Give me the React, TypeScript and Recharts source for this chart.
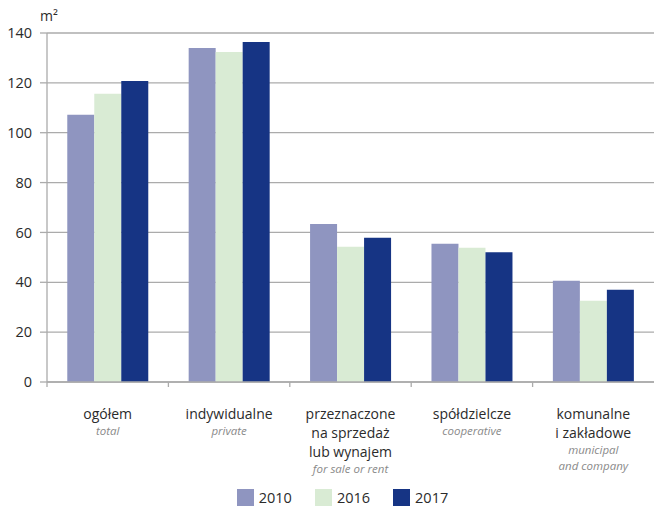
import { BarChart, Bar, XAxis, YAxis, CartesianGrid, Legend } from 'recharts';

const categoriesPl = [
  ['ogółem'],
  ['indywidualne'],
  ['przeznaczone', 'na sprzedaż', 'lub wynajem'],
  ['spółdzielcze'],
  ['komunalne', 'i zakładowe'],
];
const categoriesEn = [['total'], ['private'], ['for sale or rent'], ['cooperative'], ['municipal', 'and company']];

const values2010 = [107.2, 134.0, 63.4, 55.5, 40.6];
const values2016 = [115.6, 132.4, 54.3, 53.9, 32.6];
const values2017 = [120.7, 136.4, 57.9, 52.0, 37.0];

const yTicks = [0, 20, 40, 60, 80, 100, 120, 140];

const series = [
  { key: 'y2010', name: '2010', color: '#8f95c0' },
  { key: 'y2016', name: '2016', color: '#d9ebd4' },
  { key: 'y2017', name: '2017', color: '#163484' },
];

const data = categoriesPl.map((pl, i) => ({
  id: String(i),
  y2010: values2010[i],
  y2016: values2016[i],
  y2017: values2017[i],
}));

const W = 654;
const H = 509;
const AXIS = '#ababab';
const FONT = '"Open Sans", sans-serif';
const LEFT = 47;
const HALF_BAND = (W - LEFT) / 5 / 2;

function CategoryTick(props: any) {
  const { x, y, payload } = props;
  const i = Number(payload.value);
  const pl = categoriesPl[i];
  const en = categoriesEn[i];
  const y0 = y + 23;
  return (
    <g>
      <line x1={x - HALF_BAND} x2={x - HALF_BAND} y1={y - 8} y2={y - 3} stroke={AXIS} strokeWidth={1.3} />
      {pl.map((t, k) => (
        <text key={'p' + k} x={x} y={y0 + k * 19} textAnchor="middle" dominantBaseline="central"
          fill="#2b2b2b" fontSize={14} fontFamily={FONT}>{t}</text>
      ))}
      {en.map((t, k) => (
        <text key={'e' + k} x={x} y={y0 + pl.length * 19 - 2 + k * 16} textAnchor="middle" dominantBaseline="central"
          fill="#8a8a8a" fontSize={11.5} fontStyle="italic" fontFamily={FONT}>{t}</text>
      ))}
    </g>
  );
}

function LegendContent() {
  return (
    <div style={{ display: 'flex', justifyContent: 'center', alignItems: 'center', height: 27, paddingTop: 3, boxSizing: 'border-box', paddingLeft: 54, fontFamily: FONT, fontSize: 14.5, color: '#2b2b2b' }}>
      {series.map((s) => (
        <div key={s.key} style={{ display: 'flex', alignItems: 'center', marginRight: 23 }}>
          <span style={{ display: 'inline-block', width: 17, height: 17, background: s.color, marginRight: 5 }} />
          <span>{s.name}</span>
        </div>
      ))}
    </div>
  );
}

export default function App() {
  return (
    <div style={{ position: 'absolute', left: 0, top: 0, width: W, height: H, background: '#fff' }}>
      <div style={{ position: 'absolute', left: 40, top: 6, fontFamily: FONT, fontSize: 14, color: '#2b2b2b' }}>m²</div>
      <BarChart width={W} height={H} data={data} margin={{ top: 33, right: 0, left: 0, bottom: 0 }}
        barCategoryGap="16.7%" barGap={0}>
        <CartesianGrid vertical={false} stroke={AXIS} strokeWidth={1.3} />
        <XAxis dataKey="id" height={100} interval={0} tickLine={false} axisLine={{ stroke: AXIS, strokeWidth: 1.3 }}
          tick={<CategoryTick />} />
        <YAxis width={LEFT} domain={[0, 140]} ticks={yTicks} interval={0} tickSize={7} tickMargin={8}
          axisLine={{ stroke: AXIS, strokeWidth: 1.3 }} tickLine={{ stroke: AXIS, strokeWidth: 1.3 }}
          tick={{ fill: '#2b2b2b', fontSize: 14.5, fontFamily: FONT }} />
        <Legend verticalAlign="bottom" height={27} content={<LegendContent />} />
        {series.map((s) => (
          <Bar key={s.key} dataKey={s.key} name={s.name} fill={s.color} isAnimationActive={false} />
        ))}
      </BarChart>
    </div>
  );
}
